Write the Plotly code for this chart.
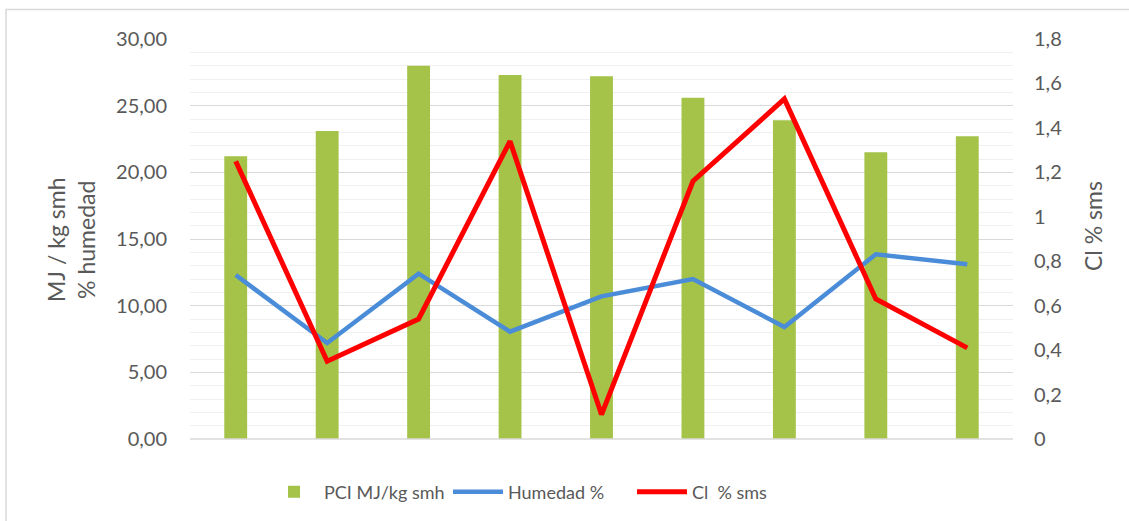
import plotly.graph_objects as go

categories = ["1", "2", "3", "4", "5", "6", "7", "8", "9"]
pci = [21.2, 23.1, 28.0, 27.3, 27.2, 25.6, 23.9, 21.5, 22.7]
humedad = [12.3, 7.2, 12.4, 8.05, 10.7, 12.0, 8.4, 13.85, 13.1]
cl = [1.25, 0.35, 0.54, 1.34, 0.11, 1.16, 1.53, 0.63, 0.41]

left_ticks = [0, 5, 10, 15, 20, 25, 30]
left_labels = ["0,00", "5,00", "10,00", "15,00", "20,00", "25,00", "30,00"]
right_ticks = [0, 0.2, 0.4, 0.6, 0.8, 1.0, 1.2, 1.4, 1.6, 1.8]
right_labels = ["0", "0,2", "0,4", "0,6", "0,8", "1", "1,2", "1,4", "1,6", "1,8"]

FONT = "Lato"
TXT = "#595959"

fig = go.Figure()
fig.add_trace(go.Bar(x=categories, y=pci, name="PCI MJ/kg smh",
                     marker=dict(color="#A5C249", line=dict(width=0)), width=0.25))
fig.add_trace(go.Scatter(x=categories, y=humedad, name="Humedad %", mode="lines",
                         line=dict(color="#4A8CD8", width=4.5)))
fig.add_trace(go.Scatter(x=categories, y=cl, name="Cl  % sms", mode="lines", yaxis="y2",
                         line=dict(color="#FF0000", width=5)))

L, R, T, B = 190, 116, 39, 82
W, H = 1129, 521
pw = W - L - R
ph = H - T - B

def px(xpix):
    return (xpix - L) / pw

def py(ypix):
    return (H - B - ypix) / ph

fig.update_layout(
    width=W, height=H,
    margin=dict(l=L, r=R, t=T, b=B, autoexpand=False),
    paper_bgcolor="white", plot_bgcolor="white",
    font=dict(family=FONT, size=20, color=TXT),
    showlegend=True,
    legend=dict(orientation="h", x=px(264), xanchor="left", y=py(492), yanchor="middle",
                font=dict(family=FONT, size=18, color=TXT), bgcolor="rgba(0,0,0,0)",
                traceorder="normal", itemwidth=50, entrywidth=119, entrywidthmode="pixels"),
    xaxis=dict(type="category", range=[-0.5, 8.5], showticklabels=False, ticks="",
               showgrid=False, zeroline=False, showline=False, automargin=False),
    yaxis=dict(range=[0, 30], tickvals=left_ticks, ticktext=left_labels, ticks="",
               ticklabelstandoff=22, automargin=False,
               showgrid=True, gridcolor="#D9D9D9", gridwidth=1.3,
               minor=dict(dtick=1, showgrid=True, gridcolor="#F0F0F0", gridwidth=1.3),
               zeroline=False, showline=False),
    yaxis2=dict(range=[0, 1.8], overlaying="y", side="right", tickvals=right_ticks,
                ticktext=right_labels, ticks="", showgrid=False, zeroline=False, showline=False,
                ticklabelstandoff=20, automargin=False),
)

fig.add_annotation(text="MJ / kg smh<br>% humedad", xref="paper", yref="paper",
                   x=px(71), y=py(240), xanchor="center", yanchor="middle",
                   textangle=-90, showarrow=False,
                   font=dict(family=FONT, size=23, color=TXT))
fig.add_annotation(text="Cl % sms", xref="paper", yref="paper",
                   x=px(1093), y=py(226), xanchor="center", yanchor="middle",
                   textangle=-90, showarrow=False,
                   font=dict(family=FONT, size=23, color=TXT))

fig.add_shape(type="line", xref="paper", yref="paper", x0=0, x1=1, y0=0, y1=0,
              line=dict(color="#D9D9D9", width=1.5), layer="above")
fig.add_shape(type="rect", xref="paper", yref="paper",
              x0=px(6), x1=px(1135), y0=py(530), y1=py(9.5),
              line=dict(color="#D9D9D9", width=1.5), fillcolor="rgba(0,0,0,0)")

fig.write_html("out.html", config={"displayModeBar": False},
               post_script="document.body.style.margin='0';document.body.style.padding='0';")
